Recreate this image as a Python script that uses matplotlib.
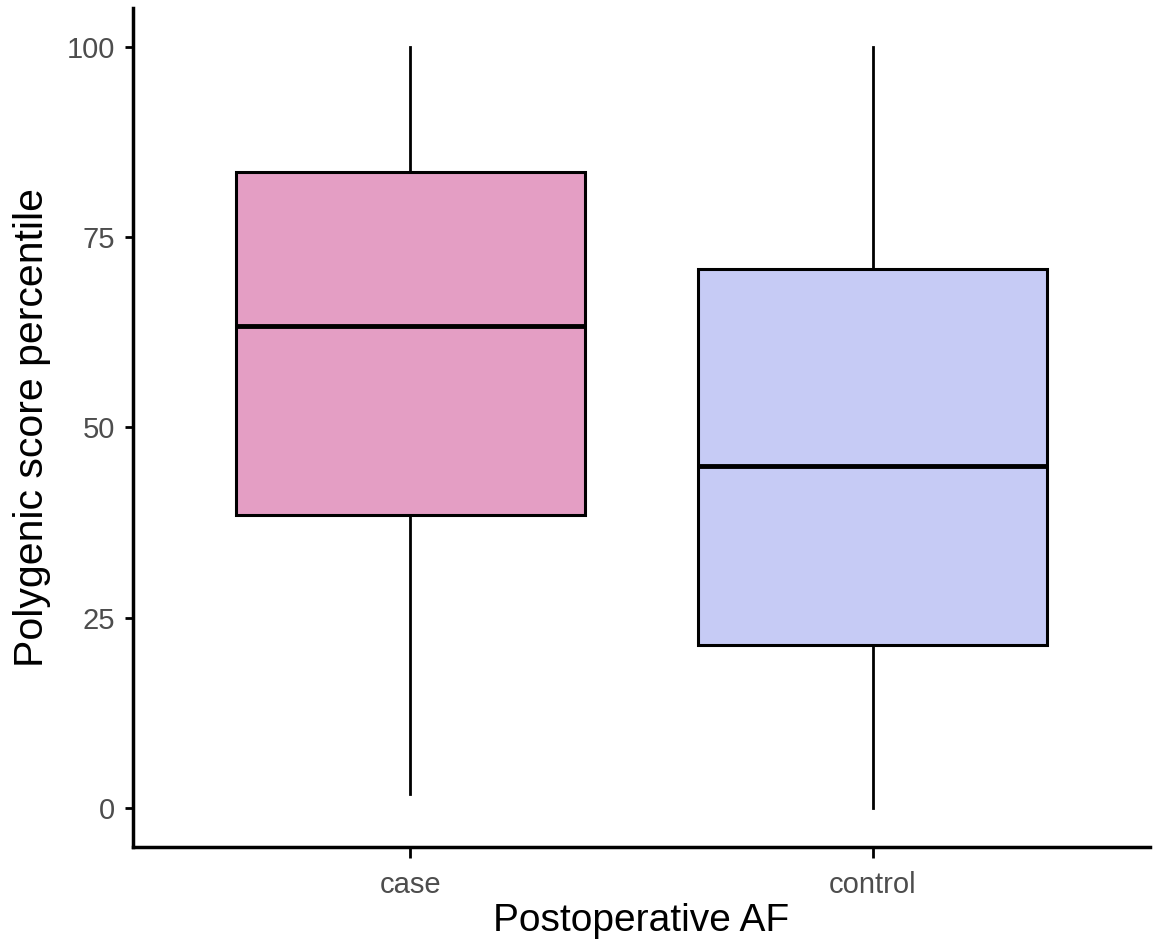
import matplotlib.pyplot as plt

plt.rcParams['font.family'] = ['Liberation Sans', 'DejaVu Sans']

# box statistics
groups = ['case', 'control']
q1 = [38.5, 21.4]
med = [63.3, 44.9]
q3 = [83.6, 70.8]
whislo = [1.8, 0.0]
whishi = [100.0, 100.0]
colors = ['#E49EC4', '#C6CBF5']

stats = []
for i, g in enumerate(groups):
    stats.append(dict(label=g, q1=q1[i], med=med[i], q3=q3[i],
                      whislo=whislo[i], whishi=whishi[i], fliers=[]))

fig = plt.figure(figsize=(11.54, 9.44), dpi=100)
ax = fig.add_axes([0.1153, 0.1028, 0.8812, 0.8887])

bp = ax.bxp(stats, positions=[1, 2], widths=0.755, patch_artist=True,
            showcaps=False,
            boxprops=dict(linewidth=2.2, edgecolor='black'),
            medianprops=dict(color='black', linewidth=3.5),
            whiskerprops=dict(color='black', linewidth=2))
for patch, c in zip(bp['boxes'], colors):
    patch.set_facecolor(c)

ax.set_xlim(0.4, 2.6)
ax.set_ylim(-5.1, 105.1)
ax.set_yticks([0, 25, 50, 75, 100])

for s in ['top', 'right']:
    ax.spines[s].set_visible(False)
for s in ['left', 'bottom']:
    ax.spines[s].set_linewidth(2.5)

ax.tick_params(axis='both', colors='#4D4D4D', labelsize=21, width=2)
ax.tick_params(axis='both', color='black')
ax.tick_params(axis='y', length=6, pad=7)
ax.tick_params(axis='x', length=8, pad=9)

ax.set_xlabel('Postoperative AF', fontsize=28, labelpad=3)
ax.set_ylabel('Polygenic score percentile', fontsize=29.5, labelpad=11)

fig.savefig('out.png', dpi=100)
